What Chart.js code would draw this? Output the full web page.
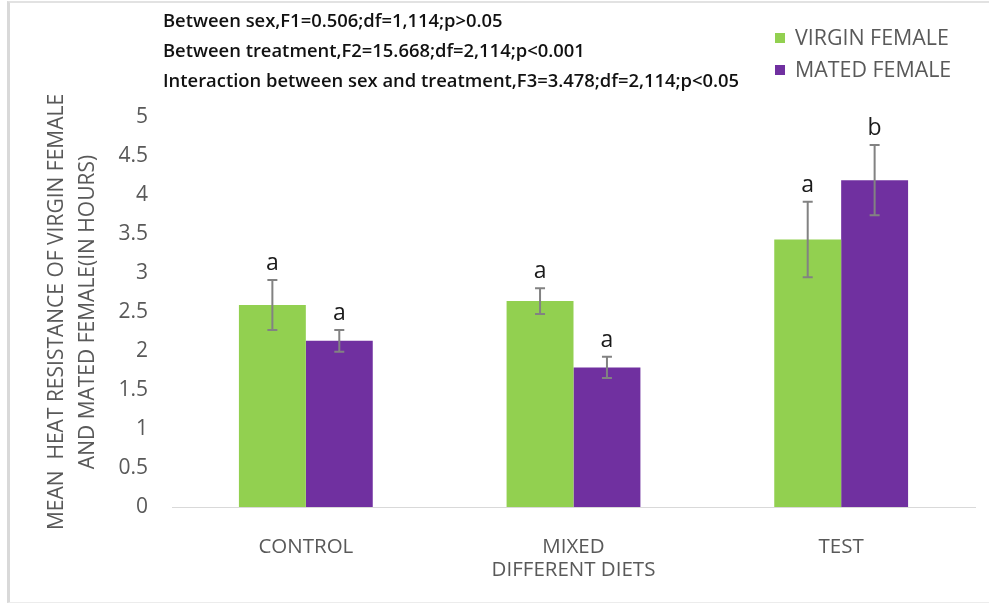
<!DOCTYPE html>
<html>
<head>
<meta charset="utf-8">
<script src="https://cdn.jsdelivr.net/npm/chart.js@4.4.1/dist/chart.umd.min.js"></script>
<style>
body { margin: 0; background: #fff; }
#wrap { position: relative; width: 989px; height: 605px; }
#frame { position: absolute; left: 7px; top: 1px; width: 982px; height: 602px; border-left: 3px solid #d9d9d9; border-top: 2px solid #e2e2e2; border-bottom: 1px solid #ececec; box-sizing: border-box; pointer-events: none; }
canvas { position: absolute; left: 0; top: 0; }
</style>
</head>
<body>
<div id="wrap">
  <canvas id="myChart" width="989" height="605"></canvas>
  <div id="frame"></div>
</div>
<script>
// data
const categories = ['CONTROL', ['MIXED', 'DIFFERENT DIETS'], 'TEST'];
const virginFemale = [2.59, 2.64, 3.43];
const matedFemale = [2.13, 1.79, 4.19];
const virginErr = [0.32, 0.165, 0.485];
const matedErr = [0.14, 0.135, 0.45];
const virginLetters = ['a', 'a', 'a'];
const matedLetters = ['a', 'a', 'b'];
const statLines = [
  'Between sex,F1=0.506;df=1,114;p>0.05',
  'Between treatment,F2=15.668;df=2,114;p<0.001',
  'Interaction between sex and treatment,F3=3.478;df=2,114;p<0.05'
];
const yTitle = ['MEAN  HEAT RESISTANCE OF VIRGIN FEMALE', 'AND MATED FEMALE(IN HOURS)'];

const green = '#92d050';
const purple = '#7030a0';
const FONT = "'Open Sans', 'DejaVu Sans', sans-serif";

const errorBars = {
  id: 'errorBars',
  afterDatasetsDraw(chart) {
    const ctx = chart.ctx;
    const y = chart.scales.y;
    chart.data.datasets.forEach(function(ds, i) {
      const meta = chart.getDatasetMeta(i);
      meta.data.forEach(function(bar, j) {
        const v = ds.data[j];
        const e = ds.errors[j];
        const top = y.getPixelForValue(v + e);
        const bot = y.getPixelForValue(v - e);
        ctx.save();
        ctx.strokeStyle = '#828282';
        ctx.lineWidth = 2;
        ctx.beginPath();
        ctx.moveTo(bar.x, top); ctx.lineTo(bar.x, bot);
        ctx.moveTo(bar.x - 5, top); ctx.lineTo(bar.x + 5, top);
        ctx.moveTo(bar.x - 5, bot); ctx.lineTo(bar.x + 5, bot);
        ctx.stroke();
        ctx.fillStyle = '#1a1a1a';
        ctx.font = '23px ' + FONT;
        ctx.textAlign = 'center';
        ctx.textBaseline = 'alphabetic';
        ctx.fillText(ds.letters[j], bar.x, top - 10);
        ctx.restore();
      });
    });
  }
};

const annotations = {
  id: 'annotations',
  afterDraw(chart) {
    const ctx = chart.ctx;
    ctx.save();
    ctx.fillStyle = '#111';
    ctx.font = '600 18.4px ' + FONT;
    ctx.textAlign = 'left';
    ctx.textBaseline = 'middle';
    statLines.forEach(function(t, i) {
      ctx.fillText(t, 163, 22 + i * 30);
    });
    // legend
    ctx.font = '21.4px ' + FONT;
    chart.data.datasets.forEach(function(ds, i) {
      const cy = 38 + i * 32;
      ctx.fillStyle = ds.backgroundColor;
      ctx.fillRect(775, cy - 5, 10, 10);
      ctx.fillStyle = '#595959';
      ctx.fillText(ds.label, 795, cy + 1);
    });
    ctx.restore();
  }
};

new Chart(document.getElementById('myChart'), {
  type: 'bar',
  data: {
    labels: categories,
    datasets: [
      { label: 'VIRGIN FEMALE', data: virginFemale, errors: virginErr, letters: virginLetters, backgroundColor: green },
      { label: 'MATED FEMALE', data: matedFemale, errors: matedErr, letters: matedLetters, backgroundColor: purple }
    ]
  },
  options: {
    responsive: false,
    animation: false,
    devicePixelRatio: 1,
    layout: { padding: { top: 117, right: 14, left: 0, bottom: 0 } },
    datasets: { bar: { categoryPercentage: 0.5, barPercentage: 1.0 } },
    plugins: { legend: { display: false }, tooltip: { enabled: false } },
    scales: {
      x: {
        grid: { display: false, drawTicks: false },
        border: { display: true, color: '#d9d9d9', width: 1 },
        ticks: { color: '#595959', font: { family: FONT, size: 20.5, lineHeight: 1.15 }, padding: 28 },
        afterFit: function(scale) { scale.height = 98; }
      },
      y: {
        min: 0,
        max: 5,
        grid: { display: false, drawTicks: false },
        border: { display: false },
        ticks: {
          stepSize: 0.5, color: '#595959', font: { family: FONT, size: 21 }, padding: 24,
          callback: function(v) { return String(v); }
        },
        title: { display: true, text: yTitle, color: '#595959', font: { family: FONT, size: 21, lineHeight: 1.48 }, padding: { top: 41, bottom: 0 } },
        afterFit: function(scale) { scale.width = 172; }
      }
    }
  },
  plugins: [errorBars, annotations]
});
</script>
</body>
</html>
